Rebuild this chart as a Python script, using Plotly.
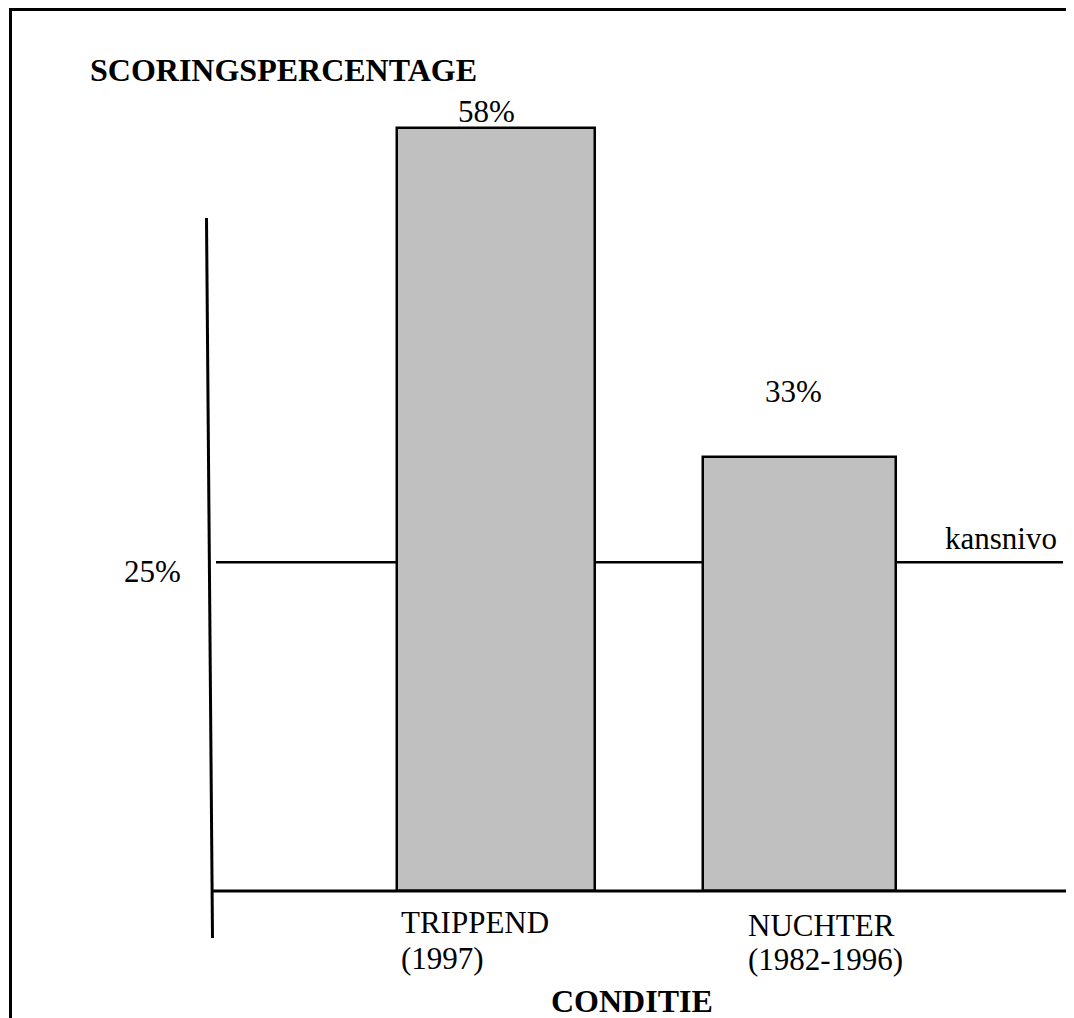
import plotly.graph_objects as go

# ---- data ----
categories = ["TRIPPEND", "NUCHTER"]
periods = ["(1997)", "(1982-1996)"]
scores = [58, 33]            # scoringspercentage
chance_level = 25            # kansnivo
title_y = "SCORINGSPERCENTAGE"
title_x = "CONDITIE"
chance_label = "kansnivo"

OFF = 8                      # default page body margin
W, H = 1074 - OFF, 1018 - OFF
FONT = "Liberation Serif"

def px(x):
    return (x - OFF) / W

def py(y):
    return 1 - (y - OFF) / H

xpos = list(range(len(categories)))

fig = go.Figure()
fig.add_trace(go.Bar(
    x=xpos, y=scores,
    width=[0.652, 0.636],
    marker=dict(color="#c0c0c0", line=dict(color="black", width=2.5)),
    hoverinfo="skip",
))

shapes = []
# frame (left and top)
shapes.append(dict(type="line", xref="paper", yref="paper",
                   x0=px(10.5), x1=px(10.5), y0=py(8), y1=0,
                   line=dict(color="black", width=3)))
shapes.append(dict(type="line", xref="paper", yref="paper",
                   x0=px(9), x1=1, y0=py(9.5), y1=py(9.5),
                   line=dict(color="black", width=3)))
# slanted vertical axis line
shapes.append(dict(type="line", xref="paper", yref="paper",
                   x0=px(206.5), x1=px(212.5), y0=py(218), y1=py(938),
                   line=dict(color="black", width=3)))
# baseline
shapes.append(dict(type="line", xref="paper", yref="y",
                   x0=px(212), x1=1, y0=0, y1=0,
                   line=dict(color="black", width=3), layer="above"))
# chance level line
shapes.append(dict(type="line", xref="paper", yref="y",
                   x0=px(216), x1=px(1063), y0=chance_level, y1=chance_level,
                   line=dict(color="black", width=2.5), layer="below"))

ann = []
def txt(text, x, y, xanchor="left", bold=False, size=31):
    ann.append(dict(text=f"<b>{text}</b>" if bold else text,
                    xref="paper", yref="paper", x=px(x), y=py(y),
                    xanchor=xanchor, yanchor="middle", showarrow=False,
                    font=dict(family=FONT, size=size, color="black")))

txt(title_y, 88, 70, bold=True, size=32)
txt(f"{scores[0]}%", 486, 112, xanchor="center")
txt(f"{scores[1]}%", 793, 391, xanchor="center")
txt(f"{chance_level}%", 183, 571, xanchor="right")
txt(chance_label, 943, 538)
txt(categories[0], 399, 922)
txt(periods[0], 399, 958)
txt(categories[1], 746, 925)
txt(periods[1], 746, 959)
txt(title_x, 632, 1001, xanchor="center", bold=True, size=32)

# y scale: 0 at y=891px (page), 13.15 px per percent
ppu = 13.15
base_px = 891 - OFF
xppu = 303.5
x0px = 496 - OFF

fig.update_layout(
    width=W, height=H,
    margin=dict(l=0, r=0, t=0, b=0),
    paper_bgcolor="white", plot_bgcolor="white",
    showlegend=False,
    shapes=shapes, annotations=ann,
    xaxis=dict(range=[-x0px / xppu, (W - x0px) / xppu], visible=False, fixedrange=True),
    yaxis=dict(range=[-(H - base_px) / ppu, base_px / ppu], visible=False, fixedrange=True),
    bargap=0,
)

fig.write_html("out.html", config={"displayModeBar": False})
